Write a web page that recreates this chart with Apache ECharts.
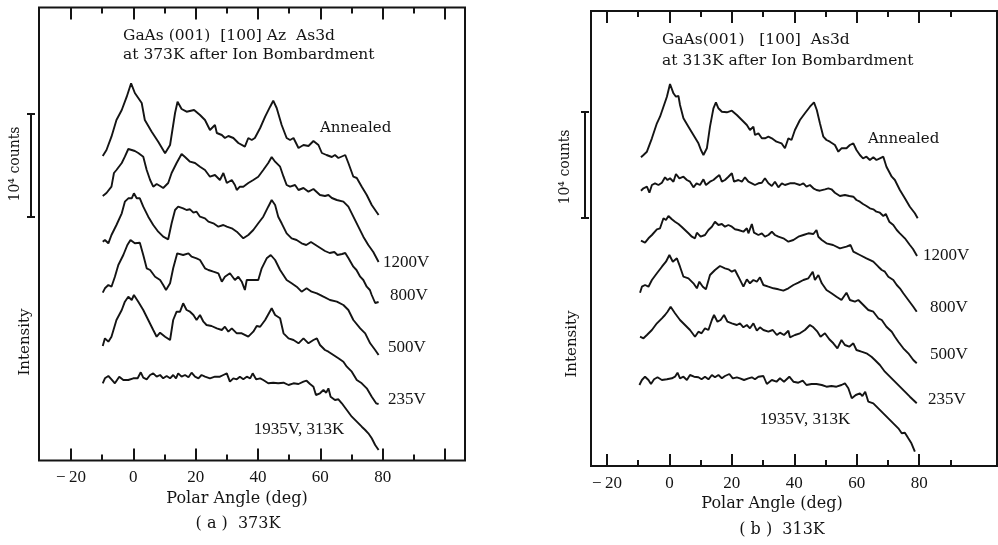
<!DOCTYPE html>
<html><head><meta charset="utf-8">
<script src="https://cdn.jsdelivr.net/npm/echarts@6/dist/echarts.min.js"></script>
<style>html,body{margin:0;padding:0;background:#fff}#c{width:998px;height:545px}</style>
</head><body><div id="c"></div><script>
// ---------- tick values ----------
const majorTicks = [-20, 0, 20, 40, 60, 80, 100];
const minorTicks = [-10, 10, 30, 50, 70, 90];
const tickLabels = [-20, 0, 20, 40, 60, 80];

// ---------- (a) 373K : [polar angle (deg), intensity (a.u., offset curves)] ----------
const a_annealed = [[-9.8,304.5],[-8.6,310.5],[-7,323.8],[-5.4,340.5],[-3.7,350.5],[-2.1,363.8],[-0.7,377.2],[0.5,367.5],[1.6,362.5],[2.1,364.5],[2.7,357.5],[3.7,340.5],[5.9,328.8],[8,318.8],[10.2,307.2],[11.8,315.5],[13.4,347.5],[14.2,358.8],[15.5,351.5],[17.1,348.8],[19.5,350.5],[21.4,345.5],[23,340.5],[24.6,330.5],[26.2,335.5],[26.8,327.5],[28.4,325.5],[29.4,322.5],[30.5,324.5],[32.1,322.5],[33.7,317.5],[35.8,313.8],[36.9,322.5],[38,320.5],[39,322.5],[40.7,332.5],[42.3,343.8],[43.9,353.8],[44.9,359.8],[46,352.5],[47.6,335.5],[49.2,322.5],[50.3,320.5],[51.4,322.5],[53,312.5],[54.6,315.5],[56.2,314.5],[57.8,319.5],[59.4,315.5],[60.5,307.5],[62,305.5],[63.7,303.5],[64.7,305.5],[65.8,302.5],[68,305.5],[69,297.5],[70.6,283.8],[71.7,282.5],[73.3,273.8],[74.9,265.5],[76.5,255.5],[78.7,245.5]];
const a_1200V = [[-9.8,264.5],[-8.6,267.5],[-7,273.8],[-6.2,287.5],[-5.4,290.5],[-3.7,297.5],[-2.7,303.8],[-1.6,311.5],[-0.5,310.5],[0.5,309.5],[1.6,307.5],[2.1,309.5],[3.2,303.8],[4.3,290.5],[5.4,280.5],[6.4,273.8],[7.5,276.5],[8.6,274.5],[9.6,272.5],[11.2,277.5],[12.3,287.5],[13.9,297.5],[15.5,306.5],[16.6,303.5],[18.2,298.8],[19.8,297.5],[21.4,293.8],[23,290.5],[24.6,283.8],[26.2,285.5],[27.8,280.5],[28.9,287.5],[30,277.5],[31.6,280.5],[32.6,275.5],[33.2,270.5],[34.2,273.8],[35.3,273.8],[36.9,277.5],[38.5,280.5],[40.1,283.8],[41.7,290.5],[43.3,297.5],[44.4,303.5],[45.5,298.8],[47.1,293.8],[48.2,283.8],[49.2,275.5],[50.3,273.8],[51.9,275.5],[53,270.5],[54.6,272.5],[56.2,268.8],[57.8,271.5],[59.9,265.5],[61.5,264.5],[62.6,265.5],[63.7,262.5],[65.3,260.5],[67.4,258.8],[69,253.8],[70.6,243.8],[72.2,233.8],[73.8,223.8],[75.4,215.5],[77,208.5],[78.7,198.5]];
const a_800V = [[-9.8,218.8],[-9.1,220.5],[-8,217.2],[-7,225.5],[-5.4,235.5],[-3.7,247.2],[-2.7,258.8],[-1.6,262.2],[-0.5,262.2],[0.2,267.2],[1.1,262.2],[2.1,262.2],[3.2,253.8],[4.8,243.8],[6.4,235.5],[8,228.8],[9.6,223.8],[11.2,221.2],[12.3,237.2],[13.4,250.5],[14.4,253.8],[16,252.2],[17.1,250.5],[18.2,251.2],[19.3,247.8],[20.3,248.8],[21.4,243.8],[23,242.2],[24.1,238.8],[25.7,237.2],[27.3,233.8],[28.9,235.5],[30,233.8],[31.6,232.2],[33.2,228.8],[35.3,222.2],[36.9,225.5],[38.5,230.5],[40.1,237.2],[41.7,243.8],[43.3,253.8],[44.4,260.5],[45.5,255.5],[46.5,243.8],[47.6,237.2],[49.2,227.2],[50.8,222.2],[52.4,220.5],[54,217.2],[55.5,215.5],[57,218.5],[58.5,215.5],[60,212.5],[61.5,209.5],[63,207.5],[64.5,208.5],[65.5,205.5],[67,206.5],[68,207.5],[69,202.5],[70.6,193.8],[71.6,190.5],[72.8,183.8],[73.8,180.5],[74.9,173.8],[75.9,170.5],[76.5,165.5],[77.6,157.5],[78.7,158.5]];
const a_500V = [[-9.8,167.8],[-9.1,172.2],[-8,175.5],[-7,173.8],[-5.9,183.8],[-4.8,195.5],[-3.2,205.5],[-1.9,215.5],[-0.9,220.5],[0.5,217.2],[2.1,217.8],[3.2,205.5],[4.3,192.2],[5.4,190.5],[7,183.8],[8.6,180.5],[9.6,175.5],[10.5,170.5],[11.8,177.2],[12.8,192.2],[14.1,207.2],[16,205.5],[17.7,207.2],[18.7,203.8],[20.3,202.2],[21.4,200.5],[23,192.2],[24.1,190.5],[25.7,188.8],[27.3,187.2],[28.4,178.8],[29.4,183.8],[31,187.2],[32.6,180.5],[33.7,183.8],[34.8,178.8],[35.8,170.5],[36.4,180.5],[38.5,180.5],[40.1,180.5],[41.2,192.2],[42.8,202.2],[44.1,205.5],[45.5,200.5],[47.1,190.5],[49.2,180.5],[50.8,177.2],[52.4,173.8],[54,168.8],[55.6,172.2],[57.2,168.8],[58.9,167.2],[61,163.8],[63.1,160.5],[65.3,158.8],[67.4,155.5],[69,150.5],[70.6,140.5],[72.8,132.2],[74.4,127.2],[76,117.2],[77.6,110.5],[78.7,105.5]];
const a_235V = [[-9.8,114.5],[-9.1,122.2],[-8,118.8],[-7,123.8],[-5.4,140.5],[-3.7,150.5],[-2.7,158.8],[-1.6,163.8],[-0.5,160.5],[0.2,165.5],[1.6,158.8],[3.2,150.5],[4.8,140.5],[6.4,130.5],[7.5,123.8],[8.6,127.8],[10.2,123.8],[11.8,120.5],[12.8,140.5],[13.9,148.8],[15,148.8],[16,157.2],[17.1,150.5],[18.2,148.8],[19.3,145.5],[20.3,140.5],[21.4,145.5],[22.5,138.8],[23.5,135.5],[25.1,134.5],[26.8,132.2],[28.4,130.5],[29.4,133.8],[30.5,128.8],[31.6,132.2],[33.2,127.2],[34.8,127.2],[36.9,123.8],[38.5,128.8],[39.6,134.5],[40.7,133.8],[42.3,140.5],[44.4,152.2],[45.5,145.5],[47.1,142.2],[48.2,127.2],[49.8,122.2],[51.4,120.5],[53,117.2],[54.6,122.2],[56.2,117.2],[57.8,120.5],[58.9,122.2],[59.9,115.5],[61.5,110.5],[62.6,108.8],[64.2,105.5],[65.8,102.2],[67.4,98.8],[68.5,93.8],[70.1,88.8],[71.7,80.5],[73.3,77.2],[74.9,72.2],[76.5,63.8],[77.9,57.2],[78.7,56.5]];
const a_1935V = [[-9.8,77.2],[-9.1,82.2],[-8,84.5],[-7,81.2],[-5.9,77.2],[-4.5,83.8],[-3.2,80.5],[-1.6,80.5],[0,82.2],[1.4,82.2],[2.4,88.2],[3.2,82.8],[4.3,81.2],[5.4,85.5],[6.4,87.2],[7.5,83.8],[8.6,85.5],[9.6,82.2],[10.7,84.5],[11.8,82.2],[12.8,85.5],[13.7,82.2],[14.4,87.2],[15.5,83.8],[16.6,85.5],[17.7,83.2],[18.7,87.8],[19.8,83.8],[20.9,82.2],[21.9,85.5],[23,83.8],[24.6,82.2],[26.2,83.8],[27.8,83.8],[28.9,85.5],[30,87.2],[31,78.8],[32.1,82.2],[33.2,81.2],[34.2,83.8],[35.3,81.2],[36.4,83.8],[37.5,82.2],[38.3,87.2],[39.4,81.2],[40.7,82.2],[41.7,80.5],[43.3,77.2],[44.9,77.8],[46.5,77.2],[48.2,77.8],[49.8,75.5],[51.4,77.2],[53,76.5],[54.6,78.8],[55.6,79.8],[56.7,76.5],[57.8,73.8],[58.6,65.5],[59.9,67.2],[61,70.5],[61.9,67.8],[62.6,72.2],[63.3,63.8],[64.7,60.5],[65.8,61.2],[66.9,57.2],[68.5,50.5],[70.1,43.8],[71.7,38.8],[73.3,33.8],[74.4,30.5],[75.4,27.2],[76.5,22.2],[77.6,15.5],[78.7,10.5]];

// ---------- (b) 313K ----------
const b_annealed = [[-9.1,308.7],[-8.3,311],[-7.2,314.3],[-6.7,316],[-5.6,327.7],[-4,342.7],[-3,349.3],[-1.9,359.3],[-0.8,369.3],[0.2,382],[1.3,372.7],[2.1,369.3],[2.9,370],[3.4,361],[4.5,347.7],[6.1,339.3],[7.7,331],[9.3,322.7],[10.1,316],[10.9,311],[12,317.7],[13,339.3],[14.1,357.7],[14.9,363.7],[15.7,357.7],[16.8,354.3],[18.4,353.7],[20,355.3],[21.6,351],[23.2,346],[24.8,341],[25.8,336],[26.9,339.3],[27.4,331],[28.5,332.7],[29.6,327.7],[30.6,327.7],[31.7,329.3],[32.8,327.7],[34.3,324.3],[35.9,322.7],[37,317.7],[38.1,327.7],[39.1,326],[40.2,336],[41.8,346],[43.4,352.7],[45,359.3],[46.3,363.7],[47.2,356],[48.2,342.7],[49.3,329.3],[50.3,326],[51.4,324.3],[53,321],[54.1,314.3],[55.1,317.7],[56.7,317.7],[57.8,321],[58.9,322.7],[59.9,316],[61,311],[62,307.7],[63.1,309.3],[64.2,306],[65.3,308.7],[66.3,306],[67.4,307.7],[68.5,309.3],[69.5,299.3],[71.2,289.3],[72.2,286],[73.8,276],[75.4,267.7],[77,259.3],[78.6,252.7],[79.5,247.7]];
const b_1200V = [[-9.1,275.3],[-8.3,277.7],[-7.2,279.3],[-6.4,273.3],[-5.6,281],[-4.6,282.7],[-3.5,281],[-2.4,283.3],[-1.4,288.7],[-0.6,286],[0.2,287.7],[1.3,284.3],[2.1,292],[3.2,287.7],[4.5,289.3],[5.6,286],[6.6,284.3],[7.7,278.7],[8.7,282.7],[9.8,281],[10.9,286.7],[11.7,281],[13,284.3],[14.1,286],[15.1,288.7],[16,291],[16.8,284.3],[17.8,286],[18.9,289.3],[20,292.7],[20.7,284.3],[22.1,286],[23.2,284.3],[24.2,288.7],[25.3,284.3],[26.4,282.7],[27.4,281],[28.5,282.7],[29.6,283.3],[30.6,287.7],[31.7,282.7],[32.8,280],[33.8,284.3],[34.9,278.7],[36,282.7],[37,281],[38.6,282.7],[40.2,282.7],[41.8,281],[42.9,282.7],[43.9,279.3],[45,281],[46.1,277.7],[47.1,276],[48.2,275.3],[49.8,276.7],[50.9,277.7],[51.9,276.7],[53,273.3],[54.6,270],[56.2,271],[57.6,270],[58.9,269.3],[59.9,266],[61,264.3],[62,262],[63.1,260],[64.2,257.7],[65.3,256.7],[66.3,254.3],[67.4,253.3],[68.5,250],[69.3,252],[70.4,244.3],[71.7,241],[72.8,236],[73.8,232.7],[75.4,227.7],[77,221],[78,217],[79.3,210]];
const b_800V = [[-9.1,225.3],[-7.8,223.3],[-6.7,227.7],[-5.6,231],[-4,236.7],[-3,237.7],[-1.9,247.7],[-1.1,246],[-0.3,250],[0.8,246.7],[1.8,244.3],[2.9,242],[3.9,239.3],[5,236],[6.1,232.7],[7.2,229.3],[8.2,227.7],[8.8,233.3],[10,229.3],[11.4,231],[12.5,236],[13.6,239.3],[14.6,244.3],[15.7,241],[16.8,242],[17.8,239.3],[18.9,241],[20,239.3],[21,236.7],[22.1,236],[23.7,234.3],[24.8,237.7],[25.3,232.7],[26.4,242],[27.1,233.3],[28.5,231],[29.6,232.7],[30.6,229.3],[31.7,231],[32.8,234.3],[33.8,231],[34.9,229.3],[36.5,227.7],[38.1,224.3],[39.7,226],[41.3,229.3],[42.9,231],[44.5,232.7],[46.1,232],[47.1,236],[47.7,229.3],[48.8,226],[50.3,222.7],[52.4,221],[54.6,217.7],[56.7,219.3],[58,221],[58.9,214.3],[61,211],[63.1,207.7],[65.3,204.3],[66.9,199.3],[68,196],[69,194.3],[70.1,189.3],[71.7,186],[72.8,181],[73.8,177.7],[74.9,172.7],[76.5,166],[78.1,159.3],[79.2,154.3]];
const b_500V = [[-9.4,173.3],[-8.8,179.3],[-7.8,181],[-6.7,179.3],[-5.6,186],[-4,192.7],[-2.4,199.3],[-1.1,204.3],[0,211],[1.1,204.3],[2.4,207.7],[3.4,199.3],[4.5,189.3],[6.1,187.7],[7.7,182.7],[8.8,177.7],[9.6,184.3],[10.7,179.3],[11.7,176.7],[13,191],[14.6,196],[16.2,200],[17.8,197.7],[18.9,196.7],[20,194.3],[21,196],[22.1,189.3],[23.7,179.3],[24.8,186.7],[25.8,182.7],[26.9,186],[28,184.3],[29,188.7],[30.1,181],[31.7,179.3],[33.3,177.7],[34.9,176.7],[36.5,175.3],[38.1,177.7],[39.7,181],[41.3,183.3],[42.9,186],[44.5,187.7],[45.9,194.3],[46.6,186],[47.7,191],[48.8,182.7],[50.3,176],[51.9,172.7],[53.5,169.3],[55.1,166],[56.7,173.3],[57.8,166],[59.4,164.3],[60.5,166],[62.1,161],[63.7,156],[65.3,154.3],[66.9,147.7],[68,146],[69.5,139.3],[71.2,134.3],[72.2,129.3],[73.3,124.3],[74.9,117.7],[76.5,112.7],[78.1,106],[79.2,102.7]];
const b_235V = [[-9.4,129.3],[-8.3,127.7],[-7.2,131],[-5.6,136],[-4,142.7],[-2.4,147.7],[-1.4,151],[-0.6,154.3],[0.4,159.3],[1.8,152.7],[3.4,146],[5,141],[6.6,136],[8.2,129.3],[9.3,134.3],[10.3,132.7],[11.4,137.7],[12.5,136],[13.6,146],[14.3,151],[15.4,144.3],[16.4,146],[17.5,151],[18.6,144.3],[20,142.7],[21.6,141],[22.6,142.7],[23.7,138.7],[24.8,141],[25.8,137.7],[26.9,142.7],[28,135.3],[29,138.7],[30.1,136],[31.7,134.3],[33.1,136],[34.4,131],[35.4,133.3],[36.7,131],[38.1,135.3],[38.6,128.7],[40.2,131],[41.8,132.7],[43.4,136],[45,141],[46.1,138.7],[47.4,134.3],[48.4,129.3],[49.8,132.7],[51.2,126.7],[52.5,122.7],[53.8,117.7],[55.1,126],[56.2,121],[57.6,119.3],[58.9,122.7],[59.9,116],[61.5,114.3],[63.1,112.7],[64.7,109.3],[65.8,106],[67.4,101],[69,94.3],[70.6,89.3],[72.2,84.3],[73.8,79.3],[75.4,74.3],[77,69.3],[78.1,66],[79.2,62.7]];
const b_1935V = [[-9.6,81],[-8.8,86],[-7.8,89.3],[-6.7,86],[-5.9,82],[-4.9,86.7],[-3.8,88.7],[-2.4,86],[-0.8,86.7],[0.8,87.7],[1.8,89.3],[2.6,93.3],[3.4,87.7],[4.5,89.3],[5.6,86],[6.6,91],[7.9,89.3],[9.3,88.7],[10.3,86.7],[11.4,89.3],[12.5,86.7],[13.6,91],[14.6,88.7],[15.7,91],[16.8,87.7],[17.8,90],[19.2,92],[20.3,87.7],[21.6,88.7],[22.6,87.7],[23.9,86],[25.3,87.7],[26.4,88.7],[27.4,86.7],[28.5,89.3],[30.1,90],[31.2,82],[32.8,86],[34.3,84.3],[35.4,87.7],[36.7,84.3],[38.4,89.3],[39.7,84.3],[41.3,83.3],[42.7,85.3],[43.9,81],[45.5,82],[47.1,82],[48.8,81],[50.3,79.3],[51.9,80],[53.5,79.3],[55.1,81],[56.2,82.7],[57.3,77.7],[58.4,67.7],[59.7,71],[61,72.7],[61.8,70],[62.7,74.3],[63.7,64.3],[65.3,62.7],[66.9,57.7],[68.5,52.7],[70.1,47.7],[71.7,42.7],[73.3,37.7],[74.4,32.7],[75.4,33.3],[76.5,27.7],[77.5,22.7],[78.6,14.3]];

const panelA = [a_annealed, a_1200V, a_800V, a_500V, a_235V, a_1935V];
const panelB = [b_annealed, b_1200V, b_800V, b_500V, b_235V, b_1935V];

// ---------- chart ----------
const INK = '#141414';
const SERIF = '"DejaVu Serif", "Liberation Serif", serif';
const TIMES = '"Liberation Serif", "DejaVu Serif", serif';

function xAxes(grid, min, max, majors) {
  const base = { type: 'value', gridIndex: grid, min: min, max: max, splitLine: { show: false }, axisLine: { show: false } };
  return [
    Object.assign({}, base, { position: 'bottom',
      axisTick: { show: true, inside: true, length: 12, lineStyle: { color: INK, width: 2 }, customValues: majors },
      axisLabel: { show: true, customValues: tickLabels, margin: 9, color: INK, fontFamily: TIMES, fontSize: 17,
        formatter: v => v < 0 ? '\u2212\u2009' + Math.abs(v) : String(v) } }),
    Object.assign({}, base, { position: 'bottom',
      axisTick: { show: true, inside: true, length: 6, lineStyle: { color: INK, width: 2 }, customValues: minorTicks },
      axisLabel: { show: false } }),
    Object.assign({}, base, { position: 'top',
      axisTick: { show: true, inside: true, length: 12, lineStyle: { color: INK, width: 2 }, customValues: majors },
      axisLabel: { show: false } }),
    Object.assign({}, base, { position: 'top',
      axisTick: { show: true, inside: true, length: 6, lineStyle: { color: INK, width: 2 }, customValues: minorTicks },
      axisLabel: { show: false } })
  ];
}

function curveSeries(list, xi, yi) {
  return list.map(d => ({ type: 'line', xAxisIndex: xi, yAxisIndex: yi, data: d, showSymbol: false, symbol: 'none',
    lineStyle: { color: INK, width: 1.9 }, silent: true, animation: false, z: 3 }));
}

function txt(x, y, s, font, align, rot) {
  const o = { type: 'text', x: x, y: y, silent: true, z: 10,
    style: { text: s, font: font, fill: INK, align: align || 'left', verticalAlign: 'middle' } };
  if (rot) o.rotation = rot;
  return o;
}
function ln(x1, y1, x2, y2) {
  return { type: 'line', silent: true, z: 10, shape: { x1, y1, x2, y2 }, style: { stroke: INK, lineWidth: 2 } };
}

const chart = echarts.init(document.getElementById('c'), null, { renderer: 'canvas' });
chart.setOption({
  backgroundColor: '#fff',
  animation: false,
  grid: [
    { left: 39, top: 7.5, width: 426, height: 453, show: true, borderColor: INK, borderWidth: 2, backgroundColor: 'transparent' },
    { left: 591, top: 11, width: 406, height: 455, show: true, borderColor: INK, borderWidth: 2, backgroundColor: 'transparent' }
  ],
  xAxis: xAxes(0, -30.25, 106.42, majorTicks).concat(xAxes(1, -25.1, 104.9, majorTicks.slice(0, 6))),
  yAxis: [
    { type: 'value', gridIndex: 0, min: 0, max: 453, show: false },
    { type: 'value', gridIndex: 1, min: 0, max: 455, show: false }
  ],
  series: curveSeries(panelA, 0, 0).concat(curveSeries(panelB, 4, 1)),
  graphic: [
    // panel (a)
    txt(123, 36, 'GaAs (001)  [100] Az  As3d', '15.5px ' + SERIF),
    txt(123, 55, 'at 373K after Ion Bombardment', '15.5px ' + SERIF),
    txt(320, 128, 'Annealed', '15px ' + SERIF),
    txt(383, 263, '1200V', '17px ' + TIMES),
    txt(390, 296, '800V', '17px ' + TIMES),
    txt(388, 348, '500V', '17px ' + TIMES),
    txt(388, 400, '235V', '17px ' + TIMES),
    txt(299, 430, '1935V, 313K', '17px ' + TIMES, 'center'),
    txt(237, 499, 'Polar Angle (deg)', '16px ' + SERIF, 'center'),
    txt(238, 524, '( a )  373K', '16px ' + SERIF, 'center'),
    txt(15, 164, '10\u2074 counts', '14px ' + SERIF, 'center', Math.PI / 2),
    txt(25, 342, 'Intensity', '15px ' + SERIF, 'center', Math.PI / 2),
    ln(31, 114, 31, 217), ln(27, 114, 35, 114), ln(27, 217, 35, 217),
    // panel (b)
    txt(662, 40, 'GaAs(001)   [100]  As3d', '15.5px ' + SERIF),
    txt(662, 61, 'at 313K after Ion Bombardment', '15.5px ' + SERIF),
    txt(868, 139, 'Annealed', '15px ' + SERIF),
    txt(923, 256, '1200V', '17px ' + TIMES),
    txt(930, 308, '800V', '17px ' + TIMES),
    txt(930, 355, '500V', '17px ' + TIMES),
    txt(928, 400, '235V', '17px ' + TIMES),
    txt(805, 420, '1935V, 313K', '17px ' + TIMES, 'center'),
    txt(772, 504, 'Polar Angle (deg)', '16px ' + SERIF, 'center'),
    txt(782, 530, '( b )  313K', '16px ' + SERIF, 'center'),
    txt(565, 167, '10\u2074 counts', '14px ' + SERIF, 'center', Math.PI / 2),
    txt(572, 344, 'Intensity', '15px ' + SERIF, 'center', Math.PI / 2),
    ln(585, 112, 585, 218), ln(581, 112, 589, 112), ln(581, 218, 589, 218)
  ]
});
</script></body></html>
